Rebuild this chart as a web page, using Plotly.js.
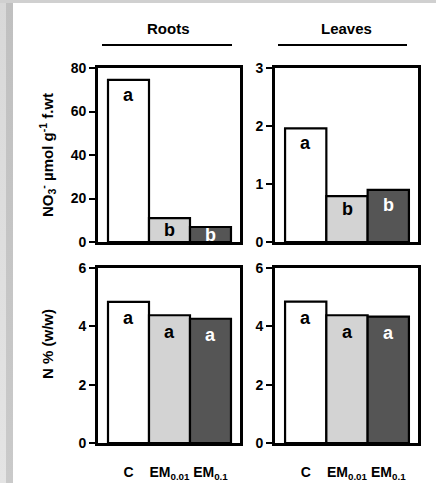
<!DOCTYPE html>
<html>
<head>
<meta charset="utf-8">
<script src="https://cdn.plot.ly/plotly-3.0.1.min.js"></script>
<style>
  html, body { margin:0; padding:0; background:#ffffff; }
  #wrap { position:relative; width:436px; height:483px; overflow:hidden; background:#ffffff; }
  #stripL1 { position:absolute; left:0; top:0; width:6px; height:483px; background:linear-gradient(#d8d8d8,#e4e4e4); }
  #stripL2 { position:absolute; left:6px; top:0; width:7px; height:483px; background:linear-gradient(#c0c0c0,#cacaca); }
  #stripT { position:absolute; left:0; top:0; width:436px; height:3px; background:#d0d0d0; }
  #chart { position:absolute; left:0; top:0; width:436px; height:483px; }
</style>
</head>
<body>
<div id="wrap">
  <div id="stripL1"></div><div id="stripL2"></div><div id="stripT"></div>
  <div id="chart"></div>
</div>
<script>
// ---- data ----
var categories = ['C', 'EM0.01', 'EM0.1'];
var tickLabels = ['C', 'EM<sub>0.01</sub>', 'EM<sub>0.1</sub>'];
var no3Roots = [74.5, 11.0, 6.9];
var no3Leaves = [1.96, 0.79, 0.90];
var nRoots = [4.84, 4.38, 4.26];
var nLeaves = [4.85, 4.38, 4.33];
var no3RootsLetters = ['a', 'b', 'b'];
var no3LeavesLetters = ['a', 'b', 'b'];
var nRootsLetters = ['a', 'a', 'a'];
var nLeavesLetters = ['a', 'a', 'a'];
var panelTitles = ['Roots', 'Leaves'];
var yTitles = ['NO<sub>3</sub><sup>-</sup> µmol g<sup>-1</sup> f.wt', 'N % (w/w)'];

// ---- style ----
var W = 436, H = 483;
var barColors = ['#ffffff', '#d3d3d3', '#555555'];
var letterColors = ['#000000', '#000000', '#ffffff'];
var FONT = 'Liberation Sans, Arial, sans-serif';
function px(x) { return x / W; }
function py(y) { return 1 - y / H; }

var panels = [
  {vals: no3Roots, letters: no3RootsLetters, xa: 'x', ya: 'y', range: [0, 80], dtick: 20, shifts: [-15, -12, -8]},
  {vals: no3Leaves, letters: no3LeavesLetters, xa: 'x2', ya: 'y2', range: [0, 3], dtick: 1, shifts: [-15, -13, -15]},
  {vals: nRoots, letters: nRootsLetters, xa: 'x3', ya: 'y3', range: [0, 6], dtick: 2, shifts: [-16, -17, -16]},
  {vals: nLeaves, letters: nLeavesLetters, xa: 'x4', ya: 'y4', range: [0, 6], dtick: 2, shifts: [-16, -17, -16]}
];

var traces = [];
var annotations = [];
panels.forEach(function (p) {
  traces.push({
    type: 'bar', x: categories, y: p.vals, xaxis: p.xa, yaxis: p.ya,
    marker: {color: barColors, line: {color: '#000000', width: 2.2}},
    hoverinfo: 'skip', showlegend: false
  });
  p.letters.forEach(function (L, i) {
    annotations.push({
      xref: p.xa, yref: p.ya, x: categories[i], y: p.vals[i], text: L,
      showarrow: false, yanchor: 'middle', yshift: p.shifts[i],
      font: {family: FONT, size: 18, weight: 'bold', color: letterColors[i]}
    });
  });
});

panelTitles.forEach(function (t, i) {
  var cx = [168, 346][i];
  annotations.push({xref: 'paper', yref: 'paper', x: px(cx), y: py(29), text: t, showarrow: false,
    xanchor: 'center', yanchor: 'middle', font: {family: FONT, size: 15, weight: 'bold', color: '#000'}});
});
annotations.push({xref: 'paper', yref: 'paper', x: px(47), y: py(155), text: yTitles[0], showarrow: false,
  textangle: -90, xanchor: 'center', yanchor: 'middle', font: {family: FONT, size: 15, weight: 'bold', color: '#000'}});
annotations.push({xref: 'paper', yref: 'paper', x: px(47), y: py(344), text: yTitles[1], showarrow: false,
  textangle: -90, xanchor: 'center', yanchor: 'middle', font: {family: FONT, size: 15, weight: 'bold', color: '#000'}});

var shapes = [
  {type: 'line', xref: 'paper', yref: 'paper', x0: px(102), x1: px(232), y0: py(45), y1: py(45), line: {color: '#000', width: 2}},
  {type: 'line', xref: 'paper', yref: 'paper', x0: px(278), x1: px(407), y0: py(45), y1: py(45), line: {color: '#000', width: 2}}
];

var xr = [-0.744, 2.72];
function xaxis(dom, labels) {
  return {domain: dom, range: xr, type: 'category', showline: true, mirror: true, linewidth: 2.8, linecolor: '#000',
    ticks: '', showgrid: false, zeroline: false, fixedrange: true,
    showticklabels: labels, tickmode: 'array', tickvals: categories, ticktext: tickLabels,
    ticklabelstandoff: 14,
    tickfont: {family: FONT, size: 14, weight: 'bold', color: '#000'}};
}
function yaxis(dom, p, anchor) {
  return {domain: dom, range: p.range, dtick: p.dtick, anchor: anchor, showline: true, mirror: true, linewidth: 2.8,
    linecolor: '#000', ticks: 'outside', ticklen: 6, tickwidth: 2, tickcolor: '#000', showgrid: false, zeroline: false,
    fixedrange: true, tickfont: {family: FONT, size: 14, weight: 'bold', color: '#000'}};
}
var domL = [px(98), px(240)], domR = [px(275), px(418)];
var domTop = [py(242), py(68)], domBot = [py(443), py(268)];

var layout = {
  width: W, height: H, margin: {l: 0, r: 0, t: 0, b: 0},
  paper_bgcolor: 'rgba(0,0,0,0)', plot_bgcolor: '#ffffff',
  bargap: 0, showlegend: false,
  xaxis: Object.assign(xaxis(domL, false), {anchor: 'y'}),
  xaxis2: Object.assign(xaxis(domR, false), {anchor: 'y2'}),
  xaxis3: Object.assign(xaxis(domL, true), {anchor: 'y3'}),
  xaxis4: Object.assign(xaxis(domR, true), {anchor: 'y4'}),
  yaxis: yaxis(domTop, panels[0], 'x'),
  yaxis2: yaxis(domTop, panels[1], 'x2'),
  yaxis3: yaxis(domBot, panels[2], 'x3'),
  yaxis4: yaxis(domBot, panels[3], 'x4'),
  annotations: annotations, shapes: shapes
};
Plotly.newPlot('chart', traces, layout, {staticPlot: true, displayModeBar: false});
</script>
</body>
</html>
